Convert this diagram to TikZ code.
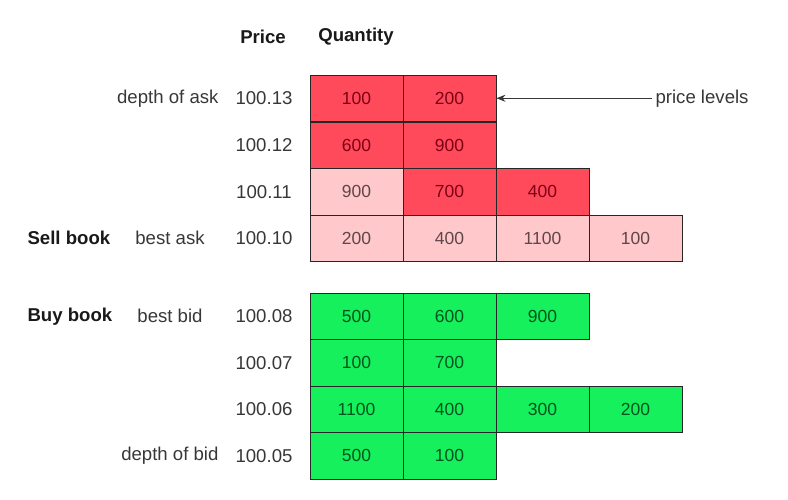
\documentclass[tikz,border=0pt]{standalone}
\usepackage{fontspec}
\setmainfont{Liberation Sans}
\usetikzlibrary{arrows.meta}

\definecolor{askdark}{RGB}{255,74,92}
\definecolor{asklight}{RGB}{255,200,202}
\definecolor{bidgreen}{RGB}{22,240,92}
\definecolor{labelgray}{RGB}{55,55,55}

\tikzset{
  qty/.style={draw=black!85,line width=0.9pt,minimum width=93pt,minimum height=46.5pt,
    inner sep=0pt,font=\fontsize{17.5}{20}\selectfont},
  askhi/.style={fill=askdark,text={rgb,255:red,125;green,0;blue,20}},
  asklo/.style={fill=asklight,text={rgb,255:red,95;green,70;blue,72}},
  bid/.style={fill=bidgreen,text={rgb,255:red,0;green,85;blue,30}},
  lbl/.style={text=labelgray,font=\fontsize{18.6}{22}\selectfont},
  head/.style={text=black!90,font=\fontsize{18.6}{22}\selectfont\bfseries}
}

\begin{document}
\begin{tikzpicture}[x=1pt,y=-1pt]
\useasboundingbox (0,0) rectangle (788,500);
% headers
\node[head] (price) at (263,37) {Price};
\node[head] (quantity) at (356,37) {Quantity};
% rows of the book: y / price / cells
\foreach \y/\p/\row [count=\r] in {
  98.25/100.13/{100/askhi,200/askhi},
  145.25/100.12/{600/askhi,900/askhi},
  191.75/100.11/{900/asklo,700/askhi,400/askhi},
  238.25/100.10/{200/asklo,400/asklo,1100/asklo,100/asklo},
  316.25/100.08/{500/bid,600/bid,900/bid},
  362.75/100.07/{100/bid,700/bid},
  409.25/100.06/{1100/bid,400/bid,300/bid,200/bid},
  455.75/100.05/{500/bid,100/bid}} {
  \node[lbl] (p\r) at (264,\y) {\p};
  \foreach \q/\s [count=\c] in \row
    \node[qty,\s] (q\r-\c) at ({263.5+93*\c},\y) {\q};
}
% side labels
\node[lbl,anchor=east] (depthask) at (222,98.25) {depth of ask};
\node[lbl] (bestask) at (170,238.25) {best ask};
\node[head,anchor=west] (sell) at (24,238.25) {Sell book};
\node[head,anchor=west] (buy) at (24,316.25) {Buy book};
\node[lbl] (bestbid) at (170,316.25) {best bid};
\node[lbl,anchor=east] (depthbid) at (222,455.75) {depth of bid};
% arrow
\node[lbl,anchor=west] (levels) at (652,98.25) {price levels};
\draw[labelgray,line width=0.9pt,-{Stealth[length=9pt,width=7pt]}] (levels.west) -- (q1-2.east);
\end{tikzpicture}
\end{document}
